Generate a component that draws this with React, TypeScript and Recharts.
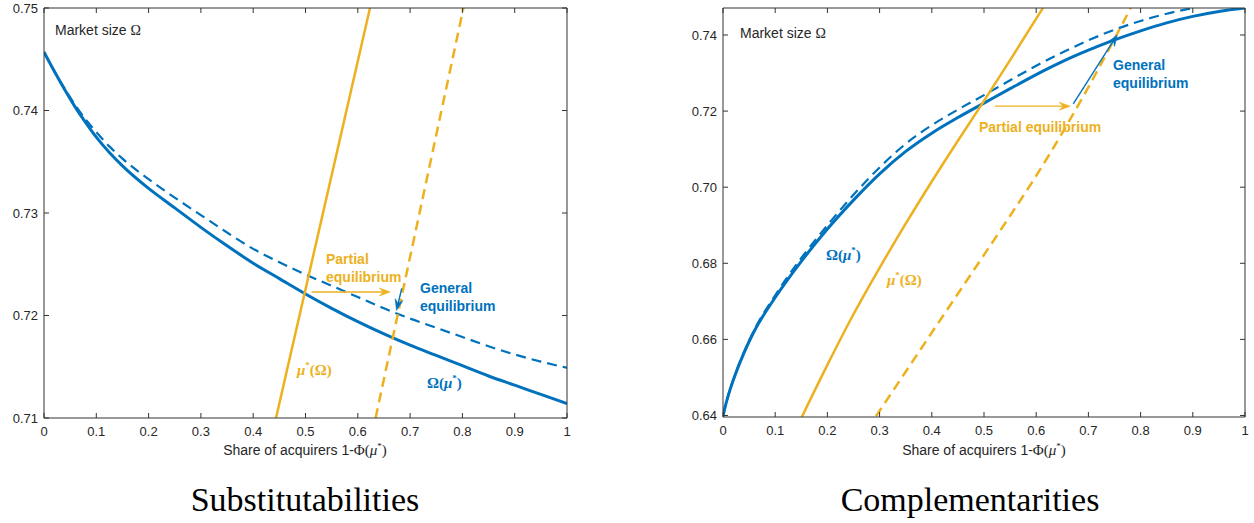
import { Line, LineChart, ReferenceLine, XAxis, YAxis } from "recharts";

const BLUE = "#0072BD";
const ORANGE = "#EDB120";
const AXIS = "#333333";
const SANS = "'Liberation Sans', Arial, sans-serif";
const SERIF = "'Liberation Serif', 'Times New Roman', serif";

const xTicks = [0, 0.1, 0.2, 0.3, 0.4, 0.5, 0.6, 0.7, 0.8, 0.9, 1];

// Substitutabilities (left panel)
const subGridX = [0, 0.02, 0.04, 0.06, 0.08, 0.1, 0.125, 0.15, 0.2, 0.25, 0.3, 0.35, 0.4, 0.45, 0.5, 0.55, 0.6, 0.65, 0.7, 0.75, 0.8, 0.85, 0.9, 0.95, 1];
const subOmega = [0.7457, 0.7438, 0.742, 0.7403, 0.7388, 0.7374, 0.7359, 0.7346, 0.7324, 0.7305, 0.7286, 0.7268, 0.7251, 0.7236, 0.7221, 0.7207, 0.7194, 0.7182, 0.7171, 0.7161, 0.7151, 0.7141, 0.7132, 0.7123, 0.7114];
const subOmegaDashed = [0.7457, 0.7438, 0.7421, 0.7405, 0.7391, 0.7379, 0.7365, 0.7353, 0.7333, 0.7315, 0.7298, 0.7281, 0.7265, 0.7252, 0.724, 0.7229, 0.7218, 0.7207, 0.7197, 0.7188, 0.7179, 0.717, 0.7162, 0.7155, 0.7149];
const subMuX = [0.4436, 0.6233];
const subMuY = [0.71, 0.75];
const subMuDashedX = [0.634, 0.802];
const subMuDashedY = [0.71, 0.75];
const subYTicks = [0.71, 0.72, 0.73, 0.74, 0.75];
const subYDomain = [0.71, 0.75];
const subArrows = [
  { from: { x: 0.512, y: 0.7223 }, to: { x: 0.662, y: 0.7223 }, color: ORANGE },
  { from: { x: 0.684, y: 0.72265 }, to: { x: 0.674, y: 0.7205 }, color: BLUE },
];

// Complementarities (right panel)
const compGridX = [0, 0.004, 0.01, 0.02, 0.04, 0.06, 0.1, 0.15, 0.2, 0.25, 0.3, 0.35, 0.4, 0.45, 0.5, 0.55, 0.6, 0.65, 0.7, 0.75, 0.8, 0.85, 0.9, 0.95, 1];
const compOmega = [0.6398, 0.6422, 0.6452, 0.6494, 0.6564, 0.6622, 0.671, 0.6805, 0.689, 0.6966, 0.7035, 0.7094, 0.7142, 0.7183, 0.7221, 0.7259, 0.7296, 0.733, 0.736, 0.7387, 0.7411, 0.7432, 0.7449, 0.7462, 0.7471];
const compDashedX = [0, 0.004, 0.01, 0.02, 0.04, 0.06, 0.1, 0.15, 0.2, 0.25, 0.3, 0.35, 0.4, 0.45, 0.5, 0.55, 0.6, 0.65, 0.7, 0.75, 0.8, 0.85, 0.9];
const compOmegaDashed = [0.6398, 0.6422, 0.6452, 0.6495, 0.6566, 0.6625, 0.6716, 0.6814, 0.69, 0.698, 0.7052, 0.7114, 0.7163, 0.7204, 0.7242, 0.7281, 0.7319, 0.7354, 0.7386, 0.7414, 0.7437, 0.7456, 0.7471];
const compMuX = [0.151, 0.2, 0.25, 0.3, 0.35, 0.4, 0.45, 0.5, 0.55, 0.6, 0.613];
const compMuY = [0.6396, 0.6533, 0.6666, 0.6788, 0.6904, 0.7015, 0.7122, 0.7227, 0.7334, 0.7443, 0.7471];
const compMuDashedX = [0.293, 0.35, 0.4, 0.45, 0.5, 0.55, 0.6, 0.65, 0.7, 0.75, 0.781];
const compMuDashedY = [0.6398, 0.6515, 0.6618, 0.672, 0.6822, 0.6925, 0.703, 0.7143, 0.7263, 0.739, 0.7471];
const compYTicks = [0.64, 0.66, 0.68, 0.7, 0.72, 0.74];
const compYDomain = [0.6396, 0.7471];
const compArrows = [
  { from: { x: 0.521, y: 0.7213 }, to: { x: 0.665, y: 0.7213 }, color: ORANGE },
  { from: { x: 0.671, y: 0.7219 }, to: { x: 0.755, y: 0.74 }, color: BLUE },
];

const zip = (xs: number[], ys: number[]) => xs.map((x, i) => ({ x, y: ys[i] }));

const arrowShape = (color: string) => (props: any) => {
  const { x1, y1, x2, y2 } = props;
  const a = Math.atan2(y2 - y1, x2 - x1);
  const c = Math.cos(a);
  const s = Math.sin(a);
  const L = 11;
  const W = 4;
  const N = 7;
  const pts = [
    [x2, y2],
    [x2 - L * c + W * s, y2 - L * s - W * c],
    [x2 - N * c, y2 - N * s],
    [x2 - L * c - W * s, y2 - L * s + W * c],
  ]
    .map((p) => p.join(","))
    .join(" ");
  return (
    <g>
      <line x1={x1} y1={y1} x2={x2 - N * c} y2={y2 - N * s} stroke={color} strokeWidth={1.4} />
      <polygon points={pts} fill={color} stroke={color} strokeWidth={0.6} />
    </g>
  );
};

type Series = { data: { x: number; y: number }[]; color: string; width: number; dashed?: boolean };

function Panel(props: {
  width: number;
  margin: { top: number; right: number; bottom: number; left: number };
  yDomain: number[];
  yTicks: number[];
  series: Series[];
  arrows: typeof subArrows;
}) {
  const tickStyle = { fill: "#262626", fontSize: 13, fontFamily: SANS };
  return (
    <LineChart width={props.width} height={470} margin={props.margin}>
      <XAxis
        xAxisId="b"
        type="number"
        dataKey="x"
        domain={[0, 1]}
        ticks={xTicks}
        allowDataOverflow
        height={40}
        tickSize={-5}
        tickMargin={14}
        stroke={AXIS}
        tick={tickStyle}
        tickFormatter={(v: number) => String(v)}
      />
      <XAxis
        xAxisId="t"
        orientation="top"
        type="number"
        dataKey="x"
        domain={[0, 1]}
        ticks={xTicks}
        allowDataOverflow
        height={1}
        tickSize={-5}
        stroke={AXIS}
        tickFormatter={() => ""}
      />
      <YAxis
        yAxisId="l"
        type="number"
        domain={props.yDomain}
        ticks={props.yTicks}
        allowDataOverflow
        width={44}
        tickSize={-5}
        tickMargin={11}
        stroke={AXIS}
        tick={tickStyle}
        tickFormatter={(v: number) => v.toFixed(2)}
      />
      <YAxis
        yAxisId="r"
        orientation="right"
        type="number"
        domain={props.yDomain}
        ticks={props.yTicks}
        allowDataOverflow
        width={1}
        tickSize={-5}
        stroke={AXIS}
        tickFormatter={() => ""}
      />
      {props.series.map((s, i) => (
        <Line
          key={i}
          xAxisId="b"
          yAxisId="l"
          data={s.data}
          dataKey="y"
          type="monotone"
          stroke={s.color}
          strokeWidth={s.width}
          strokeDasharray={s.dashed ? "10 6" : undefined}
          dot={false}
          activeDot={false}
          isAnimationActive={false}
        />
      ))}
      {props.arrows.map((a, i) => (
        <ReferenceLine
          key={"a" + i}
          xAxisId="b"
          yAxisId="l"
          segment={[a.from, a.to]}
          ifOverflow="visible"
          shape={arrowShape(a.color)}
        />
      ))}
    </LineChart>
  );
}

const Txt = (p: { left: number; top: number; color?: string; size?: number; bold?: boolean; lh?: number; font?: string; children: any }) => (
  <div
    style={{
      position: "absolute",
      left: p.left,
      top: p.top,
      color: p.color || "#262626",
      fontSize: p.size || 14,
      fontWeight: p.bold ? 700 : 400,
      lineHeight: (p.lh || p.size || 14) + "px",
      fontFamily: p.font || SANS,
      whiteSpace: "nowrap",
    }}
  >
    {p.children}
  </div>
);

const MuOmega = () => (
  <span>
    <i>μ</i>
    <sup style={{ fontSize: 9, position: "relative", top: -1 }}>*</sup>(Ω)
  </span>
);
const OmegaMu = () => (
  <span>
    Ω(<i>μ</i>
    <sup style={{ fontSize: 9, position: "relative", top: -1 }}>*</sup>)
  </span>
);

const AxisTitle = (p: { center: number }) => (
  <div
    style={{
      position: "absolute",
      left: p.center - 150,
      width: 300,
      top: 438,
      textAlign: "center",
      fontSize: 14,
      fontFamily: SANS,
      color: "#262626",
      lineHeight: "16px",
    }}
  >
    Share of acquirers 1-<span style={{ fontFamily: SERIF, fontSize: 15 }}>Φ(<i>μ</i><sup style={{ fontSize: 9 }}>*</sup>)</span>
  </div>
);

export default function App() {
  const subSeries: Series[] = [
    { data: zip(subGridX, subOmegaDashed), color: BLUE, width: 2.2, dashed: true },
    { data: zip(subGridX, subOmega), color: BLUE, width: 3 },
    { data: zip(subMuX, subMuY), color: ORANGE, width: 2.5 },
    { data: zip(subMuDashedX, subMuDashedY), color: ORANGE, width: 2.5, dashed: true },
  ];
  const compSeries: Series[] = [
    { data: zip(compDashedX, compOmegaDashed), color: BLUE, width: 2.2, dashed: true },
    { data: zip(compGridX, compOmega), color: BLUE, width: 3 },
    { data: zip(compMuX, compMuY), color: ORANGE, width: 2.5 },
    { data: zip(compMuDashedX, compMuDashedY), color: ORANGE, width: 2.5, dashed: true },
  ];
  return (
    <div style={{ position: "absolute", left: 0, top: 0, width: 1254, height: 523, background: "#fff", overflow: "hidden" }}>
      <div style={{ position: "absolute", left: 0, top: 0 }}>
        <Panel width={600} margin={{ top: 7, right: 32, bottom: 12, left: 0 }} yDomain={subYDomain} yTicks={subYTicks} series={subSeries} arrows={subArrows} />
      </div>
      <div style={{ position: "absolute", left: 679, top: 0 }}>
        <Panel width={575} margin={{ top: 7, right: 8, bottom: 13, left: 0 }} yDomain={compYDomain} yTicks={compYTicks} series={compSeries} arrows={compArrows} />
      </div>

      <Txt left={55} top={23}>
        Market size <span style={{ fontFamily: SERIF }}>Ω</span>
      </Txt>
      <Txt left={326} top={250} color={ORANGE} bold lh={18}>
        Partial
        <br />
        equilibrium
      </Txt>
      <Txt left={420} top={279} color={BLUE} bold lh={18}>
        General
        <br />
        equilibrium
      </Txt>
      <Txt left={297} top={359} color={ORANGE} bold size={15} font={SERIF}>
        <MuOmega />
      </Txt>
      <Txt left={427} top={372} color={BLUE} bold size={15} font={SERIF}>
        <OmegaMu />
      </Txt>

      <Txt left={740} top={26}>
        Market size <span style={{ fontFamily: SERIF }}>Ω</span>
      </Txt>
      <Txt left={1113} top={56} color={BLUE} bold lh={18}>
        General
        <br />
        equilibrium
      </Txt>
      <Txt left={979} top={120} color={ORANGE} bold>
        Partial equilibrium
      </Txt>
      <Txt left={826} top={244} color={BLUE} bold size={15} font={SERIF}>
        <OmegaMu />
      </Txt>
      <Txt left={887} top={269} color={ORANGE} bold size={15} font={SERIF}>
        <MuOmega />
      </Txt>

      <AxisTitle center={305} />
      <AxisTitle center={984} />

      <div style={{ position: "absolute", left: 105, width: 400, top: 480, textAlign: "center", fontFamily: SERIF, fontSize: 34, lineHeight: "40px", color: "#000" }}>
        Substitutabilities
      </div>
      <div style={{ position: "absolute", left: 770, width: 400, top: 480, textAlign: "center", fontFamily: SERIF, fontSize: 34, lineHeight: "40px", color: "#000" }}>
        Complementarities
      </div>
    </div>
  );
}
